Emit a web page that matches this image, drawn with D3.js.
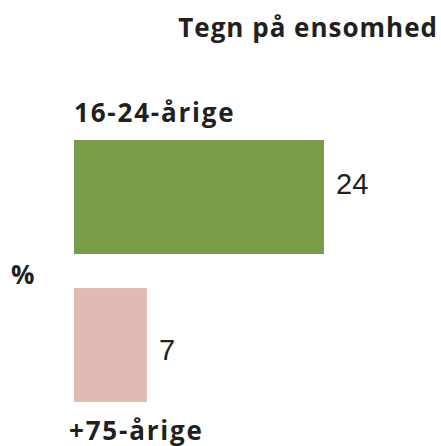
<!DOCTYPE html>
<html lang="da">
<head>
<meta charset="UTF-8">
<title>Tegn på ensomhed</title>
<script src="https://d3js.org/d3.v7.min.js"></script>
<style>
  body { margin: 0; background: #fff; }
  .head { font-family: "Open Sans", sans-serif; font-weight: 700; fill: #231f20; }
  .val { font-family: "Liberation Sans", Arial, sans-serif; fill: #231f20; }
</style>
</head>
<body>
<div id="chart"></div>
<script>
const title = "Tegn på ensomhed";
const unit = "%";
const groups = ["16-24-årige", "+75-årige"];
const values = [24, 7];
const colors = ["#789c4a", "#e2bab4"];

const W = 441, H = 446;
const svg = d3.select("#chart").append("svg")
    .attr("width", W).attr("height", H);

const x = d3.scaleLinear().domain([0, 24]).range([74, 324]);
const y = d3.scaleBand().domain(groups).range([140, 402]).paddingInner(0.23);

svg.append("text").attr("class", "head")
    .attr("x", 438).attr("y", 37)
    .attr("text-anchor", "end")
    .style("font-size", "26px")
    .style("letter-spacing", "1px")
    .text(title);

svg.append("text").attr("class", "head")
    .attr("x", 11).attr("y", 284)
    .style("font-size", "26px")
    .text(unit);

svg.selectAll("rect.bar")
    .data(groups)
    .enter().append("rect")
    .attr("class", "bar")
    .attr("x", x(0))
    .attr("y", d => y(d))
    .attr("width", (d, i) => x(values[i]) - x(0))
    .attr("height", y.bandwidth())
    .attr("fill", (d, i) => colors[i]);

// value labels: the top one sits a bit high, the bottom one a bit low
svg.selectAll("text.val")
    .data(groups)
    .enter().append("text")
    .attr("class", "val")
    .attr("x", (d, i) => x(values[i]) + 12)
    .attr("y", (d, i) => y(d) + y.bandwidth() / 2 + (i === 0 ? -3 : 15))
    .style("font-size", "29px")
    .text((d, i) => values[i]);

// first label sits above its bar, second below
svg.selectAll("text.cat")
    .data(groups)
    .enter().append("text")
    .attr("class", "head cat")
    .attr("x", (d, i) => i === 0 ? 74 : 69)
    .attr("y", (d, i) => i === 0 ? y(d) - 18 : y(d) + y.bandwidth() + 38)
    .style("font-size", "26px")
    .style("letter-spacing", "1.8px")
    .text(d => d);
</script>
</body>
</html>
